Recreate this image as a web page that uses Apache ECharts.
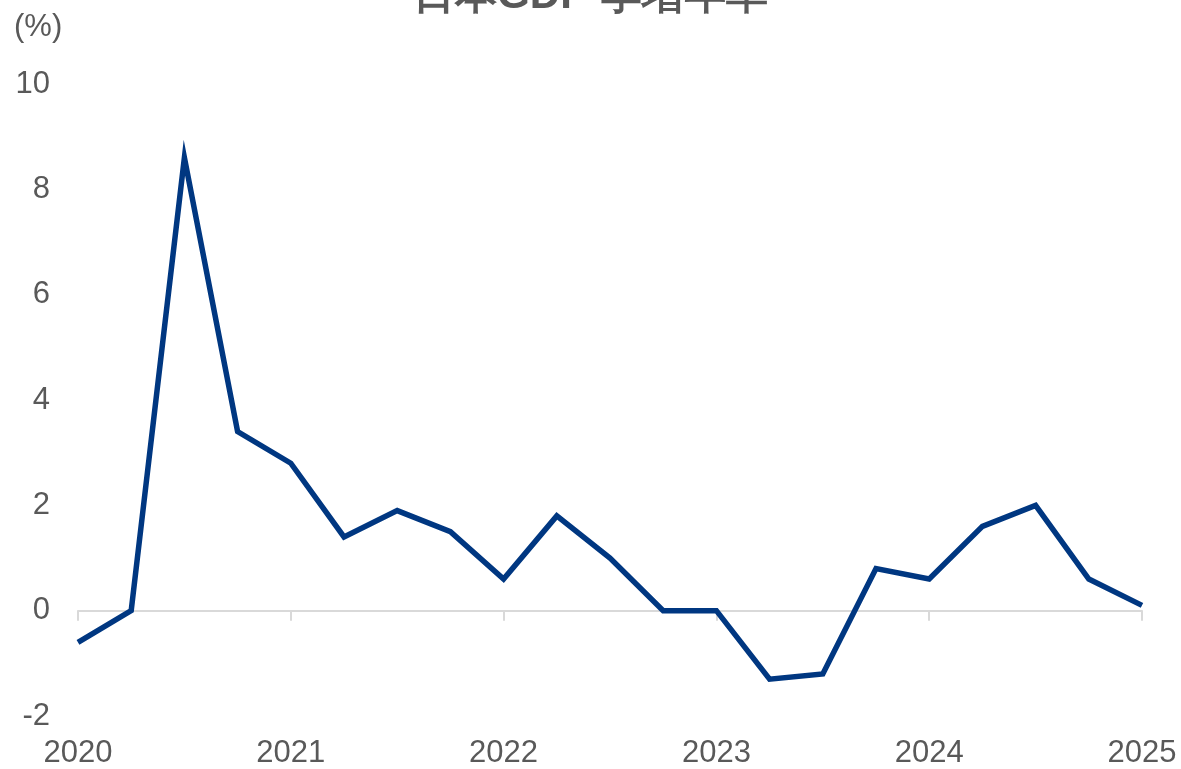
<!DOCTYPE html>
<html>
<head>
<meta charset="utf-8">
<script src="https://cdn.jsdelivr.net/npm/echarts@6/dist/echarts.min.js"></script>
<style>html,body{margin:0;padding:0;background:#fff;}#chart{width:1181px;height:769px;}</style>
</head>
<body>
<div id="chart"></div>
<script>
const titleText = '日本GDP 季增年率';
const unitLabel = '(%)';
const categories = ['2020Q1','2020Q2','2020Q3','2020Q4','2021Q1','2021Q2','2021Q3','2021Q4','2022Q1','2022Q2','2022Q3','2022Q4','2023Q1','2023Q2','2023Q3','2023Q4','2024Q1','2024Q2','2024Q3','2024Q4','2025Q1'];
const gdpGrowth = [-0.6, 0, 8.6, 3.4, 2.8, 1.4, 1.9, 1.5, 0.6, 1.8, 1.0, 0, 0, -1.3, -1.2, 0.8, 0.6, 1.6, 2.0, 0.6, 0.1];
const yTicks = { min: -2, max: 10, interval: 2 };

const chart = echarts.init(document.getElementById('chart'));
const isYear = (i) => i % 4 === 0;
const font = "Arial, 'Liberation Sans', sans-serif";
chart.setOption({
  animation: false,
  backgroundColor: '#ffffff',
  title: {
    text: titleText, left: 'center', top: -30,
    textStyle: { fontSize: 42, fontWeight: 'bold', color: '#595959', fontFamily: font }
  },
  graphic: [{
    type: 'text', left: 14, top: 12,
    style: { text: unitLabel, fontSize: 31, fill: '#595959', fontFamily: font }
  }],
  grid: { left: 78, right: 39, top: 84, bottom: 51, containLabel: false },
  xAxis: [{
    type: 'category', data: categories, boundaryGap: false,
    axisLine: { onZero: true, lineStyle: { color: '#d9d9d9', width: 2 } },
    axisTick: { show: true, length: 10, interval: (i) => isYear(i), lineStyle: { color: '#d9d9d9', width: 2 } },
    axisLabel: { show: false },
    splitLine: { show: false }
  }, {
    type: 'category', data: categories, boundaryGap: false, position: 'bottom',
    axisLine: { show: false, onZero: false },
    axisTick: { show: false },
    axisLabel: {
      show: true, interval: (i) => isYear(i), formatter: (v) => v.slice(0, 4),
      fontSize: 31, color: '#595959', fontFamily: font, margin: 22
    },
    splitLine: { show: false }
  }],
  yAxis: {
    type: 'value', min: yTicks.min, max: yTicks.max, interval: yTicks.interval,
    axisLine: { show: false }, axisTick: { show: false }, splitLine: { show: false },
    axisLabel: { fontSize: 31, color: '#595959', fontFamily: font, margin: 28 }
  },
  series: [{
    type: 'line', data: gdpGrowth, xAxisIndex: 0, showSymbol: false,
    lineStyle: { color: '#003781', width: 5.5, join: 'miter' }
  }]
});
</script>
</body>
</html>
